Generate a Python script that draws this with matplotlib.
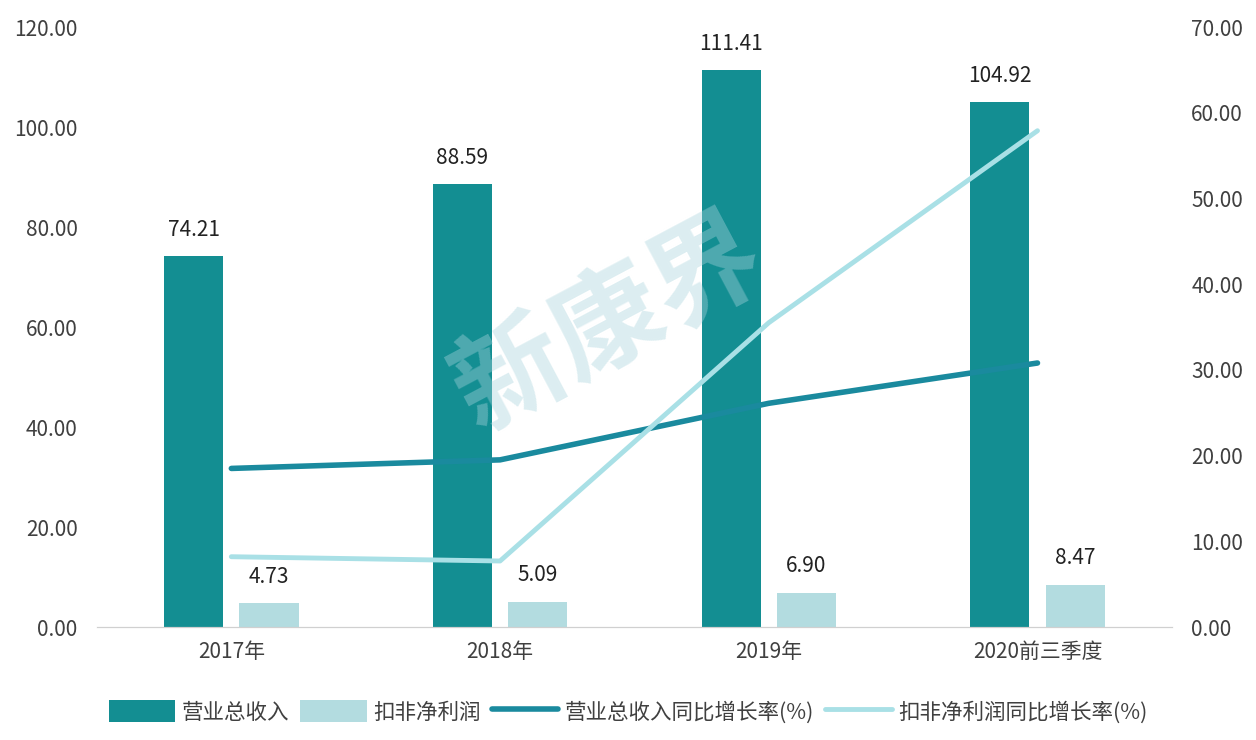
import matplotlib.pyplot as plt
import numpy as np

plt.rcParams['font.family'] = ['Noto Sans CJK SC', 'DejaVu Sans']

# data
categories = ['2017年', '2018年', '2019年', '2020前三季度']
revenue = [74.21, 88.59, 111.41, 104.92]          # 营业总收入
net_profit = [4.73, 5.09, 6.90, 8.47]             # 扣非净利润
revenue_growth = [18.5, 19.5, 26.1, 30.8]         # 营业总收入同比增长率(%)
profit_growth = [8.2, 7.7, 35.5, 57.9]            # 扣非净利润同比增长率(%)

dark = '#138E92'
light_bar = '#B3DCE0'
dark_line = '#1A8A9E'
light_line = '#A9E0E6'
text_col = '#404040'

fig = plt.figure(figsize=(12.56, 7.4), dpi=100)
ax = fig.add_axes([0.0772, 0.1527, 0.8558, 0.8108])
ax2 = ax.twinx()

x = np.arange(len(categories))
w = 0.22
b1 = ax.bar(x - 0.14, revenue, w, color=dark, label='营业总收入', zorder=2)
b2 = ax.bar(x + 0.14, net_profit, w, color=light_bar, label='扣非净利润', zorder=2)

for rects, vals in [(b1, revenue), (b2, net_profit)]:
    for r, v in zip(rects, vals):
        ax.annotate(f'{v:.2f}', (r.get_x() + r.get_width() / 2, v),
                    xytext=(0, 11), textcoords='offset points',
                    ha='center', va='bottom', fontsize=15, color='#222222')

l1, = ax2.plot(x, revenue_growth, color=dark_line, lw=4, label='营业总收入同比增长率(%)',
               solid_capstyle='round', zorder=3)
l2, = ax2.plot(x, profit_growth, color=light_line, lw=3.5, label='扣非净利润同比增长率(%)',
               solid_capstyle='round', zorder=3)

ax.set_xlim(-0.5, 3.5)
ax.set_ylim(0, 120)
ax2.set_ylim(0, 70)
ax.set_yticks(np.arange(0, 121, 20))
ax2.set_yticks(np.arange(0, 71, 10))
ax.set_yticklabels([f'{v:.2f}' for v in np.arange(0, 121, 20)])
ax2.set_yticklabels([f'{v:.2f}' for v in np.arange(0, 71, 10)])
ax.set_xticks(x)
ax.set_xticklabels(categories)

for a in (ax, ax2):
    for s in ['top', 'left', 'right']:
        a.spines[s].set_visible(False)
    a.spines['bottom'].set_color('#D0D0D0')
    a.tick_params(axis='y', length=0, labelsize=15, labelcolor=text_col, pad=14)
ax.tick_params(axis='x', length=0, labelsize=15, labelcolor=text_col, pad=10)
ax2.tick_params(axis='y', pad=14)

# watermark
fig.text(0.485, 0.56, '新康界', fontsize=80, fontweight='bold', color='#A9D4DD',
         alpha=0.4, rotation=28, ha='center', va='center', zorder=0)

fig.legend(handles=[b1, b2, l1, l2], loc='center', bbox_to_anchor=(0.5, 0.038),
           ncol=4, frameon=False, fontsize=15.5, handlelength=3.1, handleheight=1.2,
           columnspacing=0.5, handletextpad=0.3, labelcolor=text_col)

fig.savefig('out.png', dpi=100)
